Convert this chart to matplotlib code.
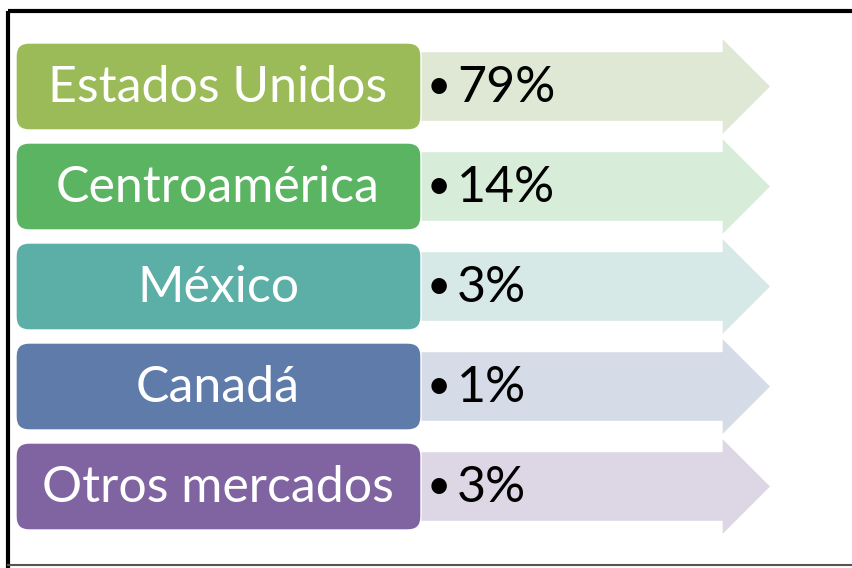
import matplotlib.pyplot as plt
from matplotlib.patches import FancyBboxPatch, Polygon

categories = ["Estados Unidos", "Centroamérica", "México", "Canadá", "Otros mercados"]
shares = [79, 14, 3, 1, 3]
box_colors = ["#9BBB59", "#5BB462", "#5BAFA6", "#5F7BAA", "#8064A2"]
arrow_colors = ["#DFE8D4", "#D7EDD9", "#D6E9E6", "#D5DCE7", "#DDD7E5"]

W, H = 852, 568
fig = plt.figure(figsize=(W / 100, H / 100), dpi=100)
ax = fig.add_axes([0, 0, 1, 1])
ax.set_xlim(0, W)
ax.set_ylim(H, 0)
ax.axis("off")

# frame around the slide
ax.plot([8, 8], [H, 11], color="black", lw=3, solid_capstyle="butt")
ax.plot([8, W], [11, 11], color="black", lw=3, solid_capstyle="butt")
ax.plot([8, W], [565, 565], color="#555555", lw=1.5)

font = "Lato"
step = 100
for i, (cat, val) in enumerate(zip(categories, shares)):
    top = 43 + i * step
    mid = top + 43.5

    # arrow behind the box
    body_top, body_bot = mid - 35, mid + 35
    head_top, head_bot = mid - 49, mid + 49
    arrow = Polygon([(410, body_top), (722, body_top), (722, head_top), (771, mid),
                     (722, head_bot), (722, body_bot), (410, body_bot)],
                    closed=True, facecolor=arrow_colors[i], edgecolor="white", lw=1)
    ax.add_patch(arrow)

    box = FancyBboxPatch((16, top), 405, 87, boxstyle="round,pad=0,rounding_size=13",
                         facecolor=box_colors[i], edgecolor="white", lw=1)
    ax.add_patch(box)
    ax.text(218, mid + 1, cat, color="white", fontsize=36, family=font,
            ha="center", va="center")

    ax.text(427, mid + 1, "•", color="black", fontsize=30, family=font,
            ha="left", va="center")
    ax.text(457, mid + 1, f"{val}%", color="black", fontsize=36, family=font,
            ha="left", va="center")

fig.savefig("out.png", dpi=100)
